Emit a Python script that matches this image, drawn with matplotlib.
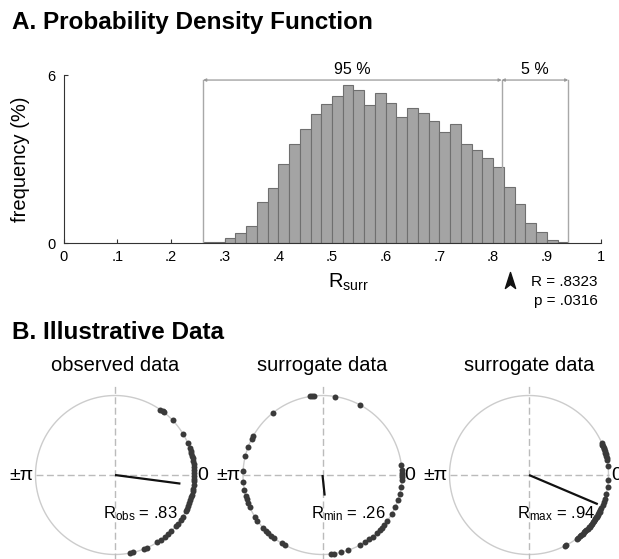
import numpy as np
import matplotlib
matplotlib.use('Agg')
import matplotlib.pyplot as plt
from matplotlib.path import Path

plt.rcParams['font.family'] = ['Liberation Sans', 'DejaVu Sans']
plt.rcParams['mathtext.fontset'] = 'custom'
plt.rcParams['mathtext.rm'] = 'Liberation Sans'
plt.rcParams['mathtext.it'] = 'Liberation Sans:italic'

# surrogate R distribution, % per bin (34 bins between R_min and R_max)
r_min, r_max = 0.26, 0.94
freq = [0.03, 0.02, 0.18, 0.36, 0.60, 1.46, 1.98, 2.83, 3.55, 4.06,
        4.60, 4.98, 5.24, 5.65, 5.46, 4.94, 5.36, 5.00, 4.49, 4.82,
        4.64, 4.37, 3.95, 4.25, 3.54, 3.33, 3.05, 2.70, 2.00, 1.40,
        0.71, 0.39, 0.11, 0.02]
r_95 = 0.816
r_obs = 0.8323
p_val = 0.0316

x_ticks = [0, 0.1, 0.2, 0.3, 0.4, 0.5, 0.6, 0.7, 0.8, 0.9, 1.0]
x_ticklabels = ['0', '.1', '.2', '.3', '.4', '.5', '.6', '.7', '.8', '.9', '1']

# phases (deg) for the three example data sets
obs_phase = [55.4, 53.3, 51.9, 43.6, 31.4, 23.8, 19.8, 17.9, 16.1, 14.1,
             12.1, 10.1, 8.1, 5.6, 3.6, 1.7, -0.7, -2.7, -4.6, -7.3,
             -9.8, -11.9, -14.2, -16.3, -18.4, -20.6, -22.8, -25.0, -26.7, -31.6,
             -34.4, -37.7, -40.2, -45.0, -48.0, -51.0, -55.0, -58.0, -66.6, -68.9,
             -76.7, -79.2]
min_phase = [99, 97.5, 96, 80.6, 62, 128.7, 151, 152.7, 159, 166,
             177, -175, -169, -165, -162.6, -159, -156.5, -148, -145, -138.4,
             -135, -133.3, -130, -127.3, -121, -118.5, -84, -81.5, -76.6, -71.6,
             -62, -57.7, -54.2, -50.7, -47, -43.6, -41.4, -38.8, -35.7, -29.7,
             -23.8, -18.7, -13.6, -8.7, -3.7, 0, 3.7, 7.4, -1.5, 1.8]
max_phase = [23.8, 22.5, 21.4, 20.0, 18.8, 17.5, 16.3, 15.0, 13.8, 12.5,
             11.2, 6.6, -3.7, -8.8, -13.7, -17.4, -19.8, -22.2, -24.7, -26.0,
             -27.4, -28.0, -29.1, -30.0, -31.5, -32.0, -33.6, -34.0, -35.7, -36.0,
             -37.7, -39.0, -40.4, -41.0, -42.5, -44.0, -45.0, -46.0, -47.5, -49.0,
             -50.3, -52.0, -53.2, -62.4, -63.2]

panel_titles = ['observed data', 'surrogate data', 'surrogate data']
panel_phases = [obs_phase, min_phase, max_phase]
vec_len = [0.83, 0.26, 0.94]
vec_dir = [-7.5, -84.0, -23.0]
vec_labels = [r'R$_{\rm obs}$ = .83', r'R$_{\rm min}$ = .26', r'R$_{\rm max}$ = .94']

W, H = 619, 559
fig = plt.figure(figsize=(W / 100, H / 100), dpi=100)

fig.text(12 / W, 1 - 29 / H, 'A. Probability Density Function',
         fontsize=17.5, fontweight='bold', va='baseline')
fig.text(12 / W, 1 - 339 / H, 'B. Illustrative Data',
         fontsize=17.5, fontweight='bold', va='baseline')

# ---- histogram ----
ax = fig.add_axes([63.5 / W, 1 - 243 / H, 537 / W, 168 / H])
edges = np.linspace(r_min, r_max, len(freq) + 1)
ax.bar(edges[:-1], freq, width=np.diff(edges), align='edge',
       color='#a4a4a4', edgecolor='#6f6f6f', linewidth=0.8, zorder=2)
ax.set_xlim(0, 1)
ax.set_ylim(0, 6)
ax.set_xticks(x_ticks)
ax.set_xticklabels(x_ticklabels)
ax.set_yticks([0, 6])
ax.tick_params(direction='in', length=3, color='#333333', labelsize=10.5)
ax.tick_params(axis='x', pad=5)
ax.tick_params(axis='y', pad=6)
for s in ['top', 'right']:
    ax.spines[s].set_visible(False)
for s in ['left', 'bottom']:
    ax.spines[s].set_color('#333333')
ax.set_ylabel('frequency (%)', fontsize=14.5)
ax.yaxis.set_label_coords(-33.5 / 537, 0.5)
ax.text(0.4925, -0.268, r'R$_{\rm surr}$', transform=ax.transAxes,
        fontsize=14.5, ha='left', va='baseline')

# 95 % / 5 % brackets
br_y = 5.82
for xv in [r_min, r_95, r_max]:
    ax.plot([xv, xv], [0, br_y], color='#a8a8a8', lw=1.0, zorder=3)
for a, b in [(r_min, r_95), (r_95, r_max)]:
    ax.annotate('', xy=(a, br_y), xytext=(b, br_y),
                arrowprops=dict(arrowstyle='<|-|>', color='#999999', lw=0.9,
                                mutation_scale=4, shrinkA=0, shrinkB=0))
ax.text((r_min + r_95) / 2 - 0.001, 6.2, '95 %', fontsize=11.5,
        ha='center', va='center', clip_on=False)
ax.text((r_95 + r_max) / 2, 6.2, '5 %', fontsize=11.5,
        ha='center', va='center', clip_on=False)

# observed R marker below the axis
head = Path([(0, 0.5), (0.32, -0.5), (0, -0.25), (-0.32, -0.5), (0, 0.5)],
            [Path.MOVETO, Path.LINETO, Path.LINETO, Path.LINETO, Path.CLOSEPOLY])
ax.plot([r_obs], [-0.22], marker=head, markersize=11.5, color='#111111',
        transform=ax.get_xaxis_transform(), clip_on=False)
ax.text(0.995, -0.232, 'R = .%s' % str(r_obs).split('.')[1], transform=ax.get_xaxis_transform(),
        fontsize=11, ha='right', va='center')
ax.text(0.995, -0.345, 'p = .%s' % ('%.4f' % p_val).split('.')[1],
        transform=ax.get_xaxis_transform(), fontsize=11, ha='right', va='center')

# ---- circular panels ----
centers = [115, 322.5, 529]
rad = 79.5
half = 100
lim = half / rad
t = np.linspace(0, 2 * np.pi, 400)
for cx, title, ph, vl, vd, lab in zip(centers, panel_titles, panel_phases,
                                      vec_len, vec_dir, vec_labels):
    pa = fig.add_axes([(cx - half) / W, 1 - (475 + half) / H, 2 * half / W, 2 * half / H])
    pa.set_xlim(-lim, lim)
    pa.set_ylim(-lim, lim)
    pa.axis('off')
    pa.plot(np.cos(t), np.sin(t), color='#cccccc', lw=1.0, clip_on=False)
    pa.plot([0, 0], [-1.13, 1.13], color='#bbbbbb', lw=1.0, dashes=(5, 2.5), clip_on=False)
    pa.plot([-1, 1], [0, 0], color='#bbbbbb', lw=1.0, dashes=(5, 2.5), clip_on=False)
    ang = np.deg2rad(ph)
    pa.plot(np.cos(ang), np.sin(ang), 'o', color='#3a3a3a', markersize=4.3,
            markeredgewidth=0, clip_on=False, zorder=4)
    d = np.deg2rad(vd)
    pa.plot([0, vl * np.cos(d)], [0, vl * np.sin(d)], color='#111111', lw=1.6,
            zorder=5, solid_capstyle='butt')
    pa.text(0, 1.31, title, fontsize=14.5, ha='center', va='baseline', clip_on=False)
    pa.text(-1.03, 0, '±π', fontsize=14, ha='right', va='center', clip_on=False)
    pa.text(1.03, 0, '0', fontsize=14, ha='left', va='center', clip_on=False)
    pa.text(-0.15, -0.54, lab, fontsize=12, ha='left', va='baseline', clip_on=False)

fig.savefig('out.png', dpi=100)
